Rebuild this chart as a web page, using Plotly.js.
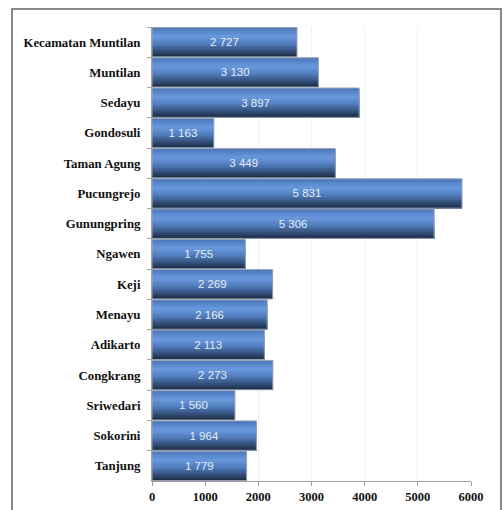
<!DOCTYPE html>
<html>
<head>
<meta charset="utf-8">
<script src="https://cdn.plot.ly/plotly-3.0.1.min.js"></script>
<style>html,body{margin:0;padding:0;background:#fff;}#chart{width:504px;height:510px;}</style>
</head>
<body>
<div id="chart"></div>
<script>
// Data (top to bottom)
const categories = ["Kecamatan Muntilan","Muntilan","Sedayu","Gondosuli","Taman Agung","Pucungrejo","Gunungpring","Ngawen","Keji","Menayu","Adikarto","Congkrang","Sriwedari","Sokorini","Tanjung"];
const values = [2727,3130,3897,1163,3449,5831,5306,1755,2269,2166,2113,2273,1560,1964,1779];
const xTickValues = [0,1000,2000,3000,4000,5000,6000];

// Gradient colour stops (style only), top to bottom
const gradStops = [[0,[74,118,182]],[0.3,[104,152,222]],[0.55,[82,126,190]],[1,[27,42,66]]];
function gradColor(t){
  for (let k = 1; k < gradStops.length; k++) {
    const [t1, c1] = gradStops[k];
    const [t0, c0] = gradStops[k-1];
    if (t <= t1) {
      const f = (t - t0) / (t1 - t0);
      return 'rgb(' + c0.map((v, j) => Math.round(v + (c1[j] - v) * f)).join(',') + ')';
    }
  }
  return 'rgb(' + gradStops[gradStops.length-1][1].join(',') + ')';
}
const barWidth = 0.97;
const n = 18;
const traces = [];
for (let i = 0; i < n; i++) {
  traces.push({
    type: 'bar', orientation: 'h',
    x: values, y: categories,
    width: barWidth - i * barWidth / n,
    offset: -barWidth / 2 + i * barWidth / n,
    marker: {color: gradColor((i + 0.5) / n), line: {width: 0}},
    hoverinfo: 'skip', showlegend: false
  });
}
traces.push({
  type: 'bar', orientation: 'h',
  x: values, y: categories,
  width: barWidth, offset: -barWidth / 2,
  marker: {color: 'rgba(0,0,0,0)', line: {color: '#98a4b6', width: 1}},
  texttemplate: '%{x:,}', textposition: 'inside', insidetextanchor: 'middle',
  textangle: 0,
  textfont: {family: 'Liberation Sans, Arial, sans-serif', size: 11.5, color: '#e4ecf6'},
  hoverinfo: 'skip', showlegend: false, cliponaxis: false
});

const layout = {
  width: 504, height: 510,
  margin: {l: 152, r: 33, t: 27, b: 29},
  paper_bgcolor: '#ffffff', plot_bgcolor: '#ffffff',
  barmode: 'overlay',
  separators: ', ',
  showlegend: false,
  xaxis: {
    range: [0, 6000], tickvals: xTickValues, ticktext: xTickValues.map(String),
    showgrid: true, gridcolor: '#f1f1f1', gridwidth: 1,
    showline: true, linecolor: '#a0a0a0', linewidth: 1,
    ticks: 'outside', ticklen: 4, tickcolor: '#a0a0a0',
    zeroline: false, fixedrange: true,
    tickfont: {family: 'Liberation Serif, Times New Roman, serif', size: 12.5, color: '#111', weight: 'bold'}
  },
  yaxis: {
    type: 'category', autorange: 'reversed',
    showline: true, linecolor: '#a0a0a0', linewidth: 1,
    ticks: 'outside', ticklen: 4, tickcolor: '#a0a0a0', tickson: 'boundaries',
    showgrid: false, fixedrange: true, ticklabelstandoff: 8,
    tickfont: {family: 'Liberation Serif, Times New Roman, serif', size: 12.8, color: '#111', weight: 'bold'}
  },
  shapes: [{
    type: 'rect', xref: 'paper', yref: 'paper',
    x0: -0.4389, x1: 1.094, y0: -0.08, y1: 1.0396,
    line: {color: '#8a8a8a', width: 2}, fillcolor: 'rgba(0,0,0,0)', layer: 'below'
  }]
};

Plotly.newPlot('chart', traces, layout, {displayModeBar: false, staticPlot: true});
</script>
</body>
</html>
